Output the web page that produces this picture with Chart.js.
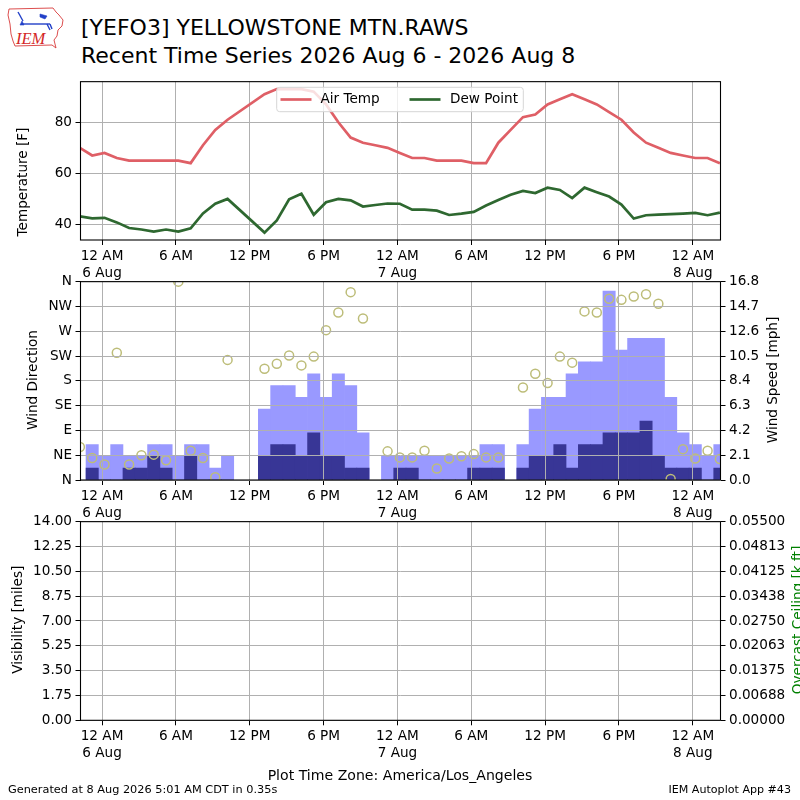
<!DOCTYPE html>
<html><head><meta charset="utf-8">
<script src="https://cdn.jsdelivr.net/npm/chart.js@4.4.1/dist/chart.umd.min.js"></script>
<style>
html,body{margin:0;padding:0;background:#fff;}
body{width:800px;height:800px;position:relative;overflow:hidden;font-family:"DejaVu Sans",sans-serif;}
canvas{position:absolute;left:0;}
.t{position:absolute;white-space:nowrap;color:#000;line-height:1;}
</style></head><body>
<svg style="position:absolute;left:0;top:0" width="75" height="55" viewBox="0 0 75 55">
  <path d="M9,9 L53,8 L56,12 L59,15 L63,20 L62,26 L58,30 L57,36 L54,40 L56,48 L52,45 L15,46 L13,41 L11,34 L10,24 L8,15 Z" fill="none" stroke="#d83a3a" stroke-width="0.9"/>
  <g stroke="#2240c8" fill="#2240c8" stroke-width="1.4">
    <line x1="18" y1="12" x2="23" y2="21"/>
    <line x1="22" y1="24" x2="50" y2="24"/>
    <polygon points="20,25 24,25 22,21" stroke-width="0.6"/>
    <polygon points="40,14 47,16 45,19 40,17" stroke-width="0.6"/>
    <line x1="47" y1="24" x2="50" y2="30"/>
    <line x1="50" y1="24" x2="52" y2="29"/>
  </g>
  <text x="16" y="43.5" font-family="Liberation Serif" font-style="italic" font-size="16.5" fill="#d32626">IEM</text>
</svg>
<div class="t" style="left:81px;top:16.8px;font-size:22px">[YEFO3] YELLOWSTONE MTN.RAWS</div>
<div class="t" style="left:81px;top:45px;font-size:22px">Recent Time Series 2026 Aug 6 - 2026 Aug 8</div>
<canvas id="c1" width="800" height="215" style="top:70px"></canvas>
<canvas id="c2" width="800" height="255" style="top:270px"></canvas>
<canvas id="c3" width="800" height="255" style="top:510px"></canvas>
<div class="t" style="left:0;width:800px;text-align:center;top:768.2px;font-size:14.1px">Plot Time Zone: America/Los_Angeles</div>
<div class="t" style="left:8px;top:783.7px;font-size:11.3px">Generated at 8 Aug 2026 5:01 AM CDT in 0.35s</div>
<div class="t" style="right:9px;top:783.7px;font-size:11.1px">IEM Autoplot App #43</div>
<script>
// ---------- data (hours after 12 AM 6 Aug 2026, America/Los_Angeles) ----------
const obsHours = [-1.8,-0.8,0.2,1.2,2.2,3.2,4.2,5.2,6.2,7.2,8.2,9.2,10.2,11.2,12.2,13.2,14.2,15.2,16.2,17.2,18.2,19.2,20.2,21.2,22.2,23.2,24.2,25.2,26.2,27.2,28.2,29.2,30.2,31.2,32.2,33.2,34.2,35.2,36.2,37.2,38.2,39.2,40.2,41.2,42.2,43.2,44.2,45.2,46.2,47.2,48.2,49.2,50.2];
const airTemp = [70,67,68,66,65,65,65,65,65,64,71,77,81,null,null,91,93,93,93,92,87,80,74,72,71,70,68,66,66,65,65,65,64,64,72,77,82,83,87,89,91,89,87,84,81,76,72,70,68,67,66,66,64];
const dewPoint = [43.2,42.4,42.6,40.8,38.6,38.0,37.2,38.0,37.2,38.5,44.3,48.1,50.0,null,null,36.8,41.6,49.8,52.0,43.8,48.7,50.0,49.4,47.0,47.6,48.2,48.1,45.8,45.8,45.4,43.7,44.2,44.9,47.4,49.6,51.6,53.1,52.3,54.4,53.5,50.3,54.4,52.6,50.9,47.8,42.3,43.6,43.8,44.0,44.2,44.5,43.6,44.6];
const windGust = [null,3,2,3,2,2,3,3,2,3,3,1,2,null,null,6,8,8,7,9,7,9,8,4,null,2,2,2,2,2,2,2,2,3,3,null,3,6,7,7,9,10,10,16,11,12,12,12,7,4,3,2,3];
const windSpeed = [null,1,0,0,1,1,2,1,0,2,0,0,0,null,null,2,3,3,2,4,2,2,1,1,null,0,1,1,0,0,0,0,1,1,1,null,1,2,2,3,1,3,3,4,4,4,5,2,1,1,1,0,1];
const windDir = [60,40,28,231,28,45,46,36,360,53,40,5,218,null,null,202,211,226,208,224,272,304,341,293,null,52,41,41,53,21,39,43,47,41,41,null,168,193,176,224,213,306,304,329,327,333,337,320,2,56,39,53,38];
const visibility = [];
const ceiling = [];
// ---------- tick labels ----------
const timeTickHours = [0,6,12,18,24,30,36,42,48];
const timeTickLabels = [['12 AM','6 Aug'],'6 AM','12 PM','6 PM',['12 AM','7 Aug'],'6 AM','12 PM','6 PM',['12 AM','8 Aug']];
const tempTicks = [40,60,80];
const dirTickLabels = ['N','NE','E','SE','S','SW','W','NW','N'];
const speedTickLabels = ['0.0','2.1','4.2','6.3','8.4','10.5','12.6','14.7','16.8'];
const visTickLabels = ['0.00','1.75','3.50','5.25','7.00','8.75','10.50','12.25','14.00'];
const ceilTickLabels = ['0.00000','0.00688','0.01375','0.02063','0.02750','0.03438','0.04125','0.04813','0.05500'];

const FONT = '"DejaVu Sans", sans-serif';
const FS = 13.6;
const GRID = '#b0b0b0';
const X_MIN = -1.75, X_MAX = 50.25;
Chart.defaults.font.family = FONT;
Chart.defaults.color = '#000';

const framePlugin = {
  id: 'frame',
  afterDraw(chart) {
    const a = chart.chartArea, ctx = chart.ctx;
    ctx.save();
    ctx.strokeStyle = '#000'; ctx.lineWidth = 1.1;
    ctx.strokeRect(a.left, a.top, a.right - a.left, a.bottom - a.top);
    ctx.restore();
  }
};
const titlePlugin = {
  id: 'axisTitles',
  afterDraw(chart, args, opts) {
    const ctx = chart.ctx;
    (opts.items || []).forEach(it => {
      ctx.save();
      ctx.translate(it.x, it.y);
      ctx.rotate(-Math.PI / 2);
      ctx.font = FS + 'px ' + FONT;
      ctx.fillStyle = it.color || '#000';
      ctx.textAlign = 'center';
      ctx.textBaseline = 'middle';
      ctx.fillText(it.text, 0, 0);
      ctx.restore();
    });
  }
};
const legendPlugin = {
  id: 'inLegend',
  afterDatasetsDraw(chart, args, opts) {
    if (!opts.box) return;
    const ctx = chart.ctx, b = opts.box;
    ctx.save();
    ctx.beginPath();
    ctx.roundRect(b.x, b.y, b.w, b.h, 3);
    ctx.fillStyle = 'rgba(255,255,255,0.8)';
    ctx.fill();
    ctx.strokeStyle = '#d6d6d6'; ctx.lineWidth = 1;
    ctx.stroke();
    ctx.font = FS + 'px ' + FONT;
    ctx.textBaseline = 'middle';
    ctx.fillStyle = '#000';
    opts.entries.forEach((e, i) => {
      const ds = chart.data.datasets[i];
      ctx.strokeStyle = ds.borderColor; ctx.lineWidth = ds.borderWidth;
      ctx.beginPath(); ctx.moveTo(e.x1, opts.y); ctx.lineTo(e.x2, opts.y); ctx.stroke();
      ctx.fillText(ds.label, e.tx, opts.y - 0.5);
    });
    ctx.restore();
  }
};

function xScale(gridZ) {
  return {
    type: 'linear', min: X_MIN, max: X_MAX, offset: false,
    afterBuildTicks: s => { s.ticks = timeTickHours.map(v => ({ value: v })); },
    ticks: { autoSkip: false, maxRotation: 0, minRotation: 0, padding: 3.5, color: '#000',
      font: { family: FONT, size: FS, lineHeight: 1.2 },
      callback: (v, i) => timeTickLabels[i] },
    grid: { color: GRID, lineWidth: 1, tickColor: '#000', tickLength: 5, offset: false, z: gridZ },
    border: { display: false },
    afterFit: s => { s.height = 45; }
  };
}
function yScale(pos, min, max, values, labels, width, showGrid, gridZ) {
  return {
    type: 'linear', position: pos, min: min, max: max,
    afterBuildTicks: s => { s.ticks = values.map(v => ({ value: v })); },
    ticks: { autoSkip: false, padding: 3.5, color: '#000', font: { family: FONT, size: FS },
      callback: (v, i) => labels[i] },
    grid: { color: GRID, lineWidth: 1, tickColor: '#000', tickLength: 5, drawOnChartArea: showGrid, z: gridZ },
    border: { display: false },
    afterFit: s => { s.width = width; }
  };
}
const baseOpts = { responsive: false, animation: false, events: [], devicePixelRatio: 1 };

// ---------- chart 1: temperature ----------
new Chart(document.getElementById('c1'), {
  type: 'line',
  data: { datasets: [
    { label: 'Air Temp', data: obsHours.map((h, i) => ({ x: h, y: airTemp[i] })), borderColor: '#df5f66', borderWidth: 2.7, pointRadius: 0, tension: 0, spanGaps: true },
    { label: 'Dew Point', data: obsHours.map((h, i) => ({ x: h, y: dewPoint[i] })), borderColor: '#2e6830', borderWidth: 2.7, pointRadius: 0, tension: 0, spanGaps: true }
  ] },
  options: Object.assign({}, baseOpts, {
    layout: { padding: { top: 10.3, right: 79.5, left: 0, bottom: 0 } },
    plugins: { legend: { display: false }, tooltip: { enabled: false },
      axisTitles: { items: [{ text: 'Temperature [F]', x: 23, y: 112 }] },
      inLegend: { box: { x: 276.7, y: 17.3, w: 246.6, h: 24.4 }, y: 29.5,
        entries: [{ x1: 280.5, x2: 311.5, tx: 320.5 }, { x1: 409.5, x2: 440.5, tx: 450 }] } },
    scales: { x: xScale(0), y: yScale('left', 33.9, 95.9, tempTicks, tempTicks.map(String), 80.5, true, 0) }
  }),
  plugins: [framePlugin, titlePlugin, legendPlugin]
});

// ---------- chart 2: wind ----------
new Chart(document.getElementById('c2'), {
  type: 'bar',
  data: { datasets: [
    { type: 'line', label: 'Wind Direction', data: obsHours.map((h, i) => ({ x: h, y: windDir[i] })), yAxisID: 'yDir', showLine: false,
      pointRadius: 4.5, pointBorderWidth: 1.5, pointBorderColor: '#bdbd79', pointBackgroundColor: 'rgba(0,0,0,0)', borderColor: '#bdbd79', clip: 0, order: 0 },
    { label: 'Wind Speed', data: obsHours.map((h, i) => ({ x: h, y: windSpeed[i] })), yAxisID: 'ySpd', backgroundColor: '#383696',
      barPercentage: 1, categoryPercentage: 1, grouped: false, borderWidth: 0, order: 1 },
    { label: 'Wind Gust', data: obsHours.map((h, i) => ({ x: h, y: windGust[i] })), yAxisID: 'ySpd', backgroundColor: '#9999ff',
      barPercentage: 1, categoryPercentage: 1, grouped: false, borderWidth: 0, order: 2 }
  ] },
  options: Object.assign({}, baseOpts, {
    layout: { padding: { top: 10, right: 0, left: 0, bottom: 0 } },
    plugins: { legend: { display: false }, tooltip: { enabled: false },
      axisTitles: { items: [{ text: 'Wind Direction', x: 33, y: 110 }, { text: 'Wind Speed [mph]', x: 773, y: 110 }] } },
    scales: {
      x: xScale(1),
      yDir: yScale('left', 0, 360, [0,45,90,135,180,225,270,315,360], dirTickLabels, 80.5, true, 1),
      ySpd: yScale('right', 0, 16.8, [0,2.1,4.2,6.3,8.4,10.5,12.6,14.7,16.8], speedTickLabels, 79.5, false, 0)
    }
  }),
  plugins: [framePlugin, titlePlugin]
});

// ---------- chart 3: visibility / ceiling ----------
new Chart(document.getElementById('c3'), {
  type: 'line',
  data: { datasets: [
    { label: 'Visibility', data: visibility, yAxisID: 'yVis', borderColor: '#000', pointRadius: 0 },
    { label: 'Overcast Ceiling', data: ceiling, yAxisID: 'yCeil', borderColor: 'green', pointRadius: 0 }
  ] },
  options: Object.assign({}, baseOpts, {
    layout: { padding: { top: 10.3, right: 0, left: 0, bottom: 0 } },
    plugins: { legend: { display: false }, tooltip: { enabled: false },
      axisTitles: { items: [{ text: 'Visibility [miles]', x: 18, y: 109.7 }, { text: 'Overcast Ceiling [k ft]', x: 798.5, y: 110, color: 'green' }] } },
    scales: {
      x: Object.assign(xScale(0), { afterFit: s => { s.height = 44.7; } }),
      yVis: yScale('left', 0, 14, [0,1.75,3.5,5.25,7,8.75,10.5,12.25,14], visTickLabels, 80.5, true, 0),
      yCeil: yScale('right', 0, 0.055, [0,0.006875,0.01375,0.020625,0.0275,0.034375,0.04125,0.048125,0.055], ceilTickLabels, 79.5, false, 0)
    }
  }),
  plugins: [framePlugin, titlePlugin]
});
</script>
</body></html>
